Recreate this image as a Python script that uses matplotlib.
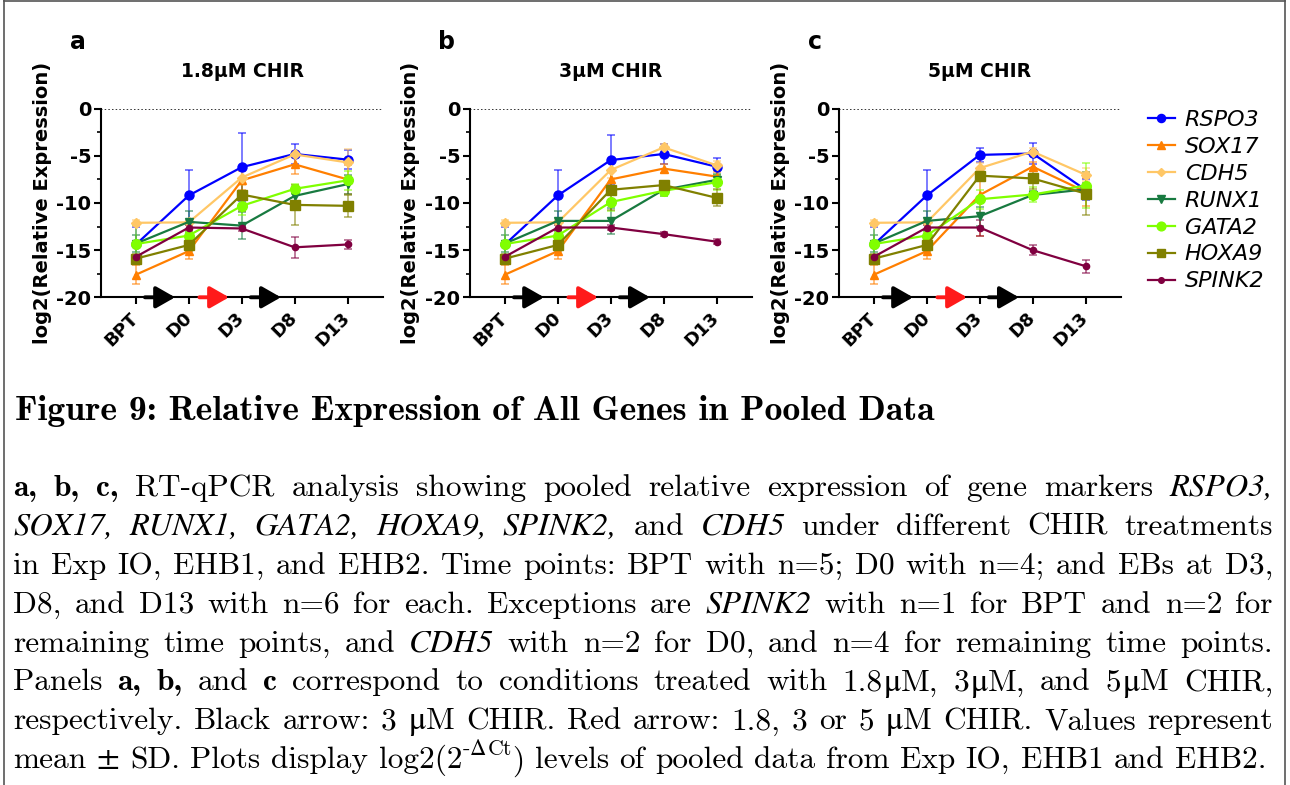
import matplotlib
matplotlib.use('Agg')
import matplotlib.pyplot as plt
import numpy as np
from matplotlib.lines import Line2D
from matplotlib.colors import to_rgba

plt.rcParams['axes.unicode_minus'] = False

W, H = 1290, 785

# ---------------- data ----------------
timepoints = ['BPT', 'D0', 'D3', 'D8', 'D13']
genes = ['RSPO3', 'SOX17', 'CDH5', 'RUNX1', 'GATA2', 'HOXA9', 'SPINK2']
panel_letters = ['a', 'b', 'c']
panel_titles = ['1.8μM CHIR', '3μM CHIR', '5μM CHIR']

mean_a = {
    'RSPO3': [-14.4, -9.2, -6.2, -4.8, -5.4],
    'SOX17': [-17.6, -15.1, -7.6, -5.9, -7.5],
    'CDH5': [-12.1, -12.05, -7.3, -4.85, -5.7],
    'RUNX1': [-14.3, -12.0, -12.4, -9.25, -8.0],
    'GATA2': [-14.35, -13.45, -10.3, -8.5, -7.6],
    'HOXA9': [-15.9, -14.45, -9.1, -10.2, -10.3],
    'SPINK2': [-15.7, -12.6, -12.7, -14.7, -14.4],
}
sd_a = {
    'RSPO3': [1.9, 2.7, 3.6, 1.1, 1.0],
    'SOX17': [1.0, 0.8, 1.0, 1.0, 1.5],
    'CDH5': [0.3, 0.3, 0.8, 0.4, 1.4],
    'RUNX1': [0.9, 1.1, 1.4, 0.5, 1.0],
    'GATA2': [2.0, 0.4, 1.0, 0.5, 1.0],
    'HOXA9': [0.5, 0.6, 1.8, 2.1, 1.2],
    'SPINK2': [0.0, 0.3, 0.3, 1.1, 0.5],
}
mean_b = {
    'RSPO3': [-14.4, -9.2, -5.45, -4.8, -6.15],
    'SOX17': [-17.6, -15.1, -7.5, -6.35, -7.2],
    'CDH5': [-12.1, -12.05, -6.5, -4.1, -6.0],
    'RUNX1': [-14.3, -11.9, -11.9, -8.6, -7.55],
    'GATA2': [-14.35, -13.45, -9.9, -8.7, -7.8],
    'HOXA9': [-15.9, -14.45, -8.6, -8.1, -9.45],
    'SPINK2': [-15.7, -12.6, -12.6, -13.3, -14.1],
}
sd_b = {
    'RSPO3': [1.9, 2.7, 2.65, 1.1, 0.9],
    'SOX17': [1.0, 0.8, 1.0, 0.5, 0.5],
    'CDH5': [0.3, 0.3, 0.8, 0.4, 0.5],
    'RUNX1': [0.9, 1.1, 1.4, 0.7, 0.6],
    'GATA2': [2.0, 0.4, 1.0, 0.6, 0.8],
    'HOXA9': [0.5, 0.6, 2.1, 0.4, 0.9],
    'SPINK2': [0.0, 0.3, 0.3, 0.2, 0.3],
}
mean_c = {
    'RSPO3': [-14.4, -9.2, -4.9, -4.75, -8.6],
    'SOX17': [-17.6, -15.1, -9.15, -6.15, -8.8],
    'CDH5': [-12.1, -12.05, -6.3, -4.55, -7.0],
    'RUNX1': [-14.3, -11.9, -11.4, -9.15, -8.55],
    'GATA2': [-14.35, -13.45, -9.6, -9.1, -8.15],
    'HOXA9': [-15.9, -14.45, -7.1, -7.4, -9.0],
    'SPINK2': [-15.7, -12.6, -12.6, -15.0, -16.7],
}
sd_c = {
    'RSPO3': [1.9, 2.7, 0.7, 1.15, 1.1],
    'SOX17': [1.0, 0.8, 4.3, 0.5, 1.5],
    'CDH5': [0.3, 0.3, 0.5, 0.4, 0.7],
    'RUNX1': [0.9, 1.1, 1.0, 0.4, 0.7],
    'GATA2': [2.0, 0.4, 1.0, 0.8, 2.4],
    'HOXA9': [0.5, 0.6, 0.3, 1.1, 2.3],
    'SPINK2': [0.0, 0.3, 0.85, 0.5, 0.7],
}
panel_means = [mean_a, mean_b, mean_c]
panel_sds = [sd_a, sd_b, sd_c]

# treatment arrows (x in category units, drawn on the x axis)
arrow_starts = [0.17, 1.20, 2.17]
arrow_ends = [0.74, 1.76, 2.74]
arrow_colors = ['black', '#ff1a1a', 'black']

# ---------------- styles ----------------
colors = {'RSPO3': '#0000ff', 'SOX17': '#ff7f00', 'CDH5': '#ffc766',
          'RUNX1': '#187a40', 'GATA2': '#80ff00', 'HOXA9': '#808000',
          'SPINK2': '#800040'}
markers = {'RSPO3': 'o', 'SOX17': '^', 'CDH5': 'D', 'RUNX1': 'v',
           'GATA2': 'o', 'HOXA9': 's', 'SPINK2': 'o'}
msizes = {'RSPO3': 6.5, 'SOX17': 6, 'CDH5': 5, 'RUNX1': 6,
          'GATA2': 7, 'HOXA9': 7, 'SPINK2': 4.5}

fig = plt.figure(figsize=(W / 100, H / 100), dpi=100)

ax_left_px = [101, 470, 839]
ax_w_px, ax_top_px, ax_bot_px = 282, 108.7, 297.3

x = np.arange(len(timepoints))
for k in range(3):
    L = ax_left_px[k]
    ax = fig.add_axes([L / W, 1 - ax_bot_px / H, ax_w_px / W, (ax_bot_px - ax_top_px) / H])
    ax.axhline(0, color='black', lw=1.1, ls=(0, (1, 1.4)), zorder=1)
    for g in genes:
        ax.errorbar(x, panel_means[k][g], yerr=panel_sds[k][g], color=colors[g],
                    marker=markers[g], ms=msizes[g], lw=1.6,
                    ecolor=to_rgba(colors[g], 0.6), elinewidth=1.2, capsize=3,
                    capthick=1.2, clip_on=False, zorder=3)
    ax.set_ylim(-20, 0)
    ax.set_xlim(-0.66, 4.67)
    ax.set_yticks([-20, -15, -10, -5, 0])
    ax.set_yticks([-17.5, -12.5, -7.5, -2.5], minor=True)
    ax.set_xticks(x)
    ax.set_xticklabels(timepoints, rotation=45, ha='right', va='center',
                       rotation_mode='anchor', fontsize=13, fontweight='bold')
    for lab in ax.get_yticklabels():
        lab.set_fontweight('bold')
        lab.set_fontsize(14)
    for s in ['top', 'right']:
        ax.spines[s].set_visible(False)
    for s in ['left', 'bottom']:
        ax.spines[s].set_linewidth(1.5)
    ax.tick_params(axis='y', which='major', length=5, width=1.5, pad=2)
    ax.tick_params(axis='y', which='minor', length=3, width=1.2)
    ax.tick_params(axis='x', which='major', length=5, width=1.5, pad=8)
    ax.set_ylabel('log2(Relative Expression)', fontsize=14, fontweight='bold', va='center')
    ax.yaxis.set_label_coords(-59 / ax_w_px, 0.5)
    ax.patch.set_alpha(0)
    for xs, xe, c in zip(arrow_starts, arrow_ends, arrow_colors):
        ax.annotate('', xy=(xe, -20), xytext=(xs, -20),
                    arrowprops=dict(arrowstyle='-|>,head_length=1.05,head_width=0.6',
                                    color=c, lw=2.8, shrinkA=0, shrinkB=0,
                                    mutation_scale=11),
                    annotation_clip=False, zorder=4)
    fig.text((L - 23.5) / W, 1 - 49 / H, panel_letters[k], fontsize=17,
             fontweight='bold', ha='center', va='baseline')
    fig.text((L + ax_w_px / 2) / W, 1 - 77 / H, panel_titles[k], fontsize=13.5,
             fontweight='bold', ha='center', va='baseline')

handles = [Line2D([], [], color=colors[g], marker=markers[g], ms=msizes[g] * 0.9, lw=1.6)
           for g in genes]
fig.legend(handles, genes, loc='upper left', bbox_to_anchor=(1148 / W, 1 - 110 / H),
           frameon=False, prop=dict(family='DejaVu Sans', style='italic', size=16),
           handlelength=1.2, handletextpad=0.45, labelspacing=0.31,
           borderpad=0, borderaxespad=0)

# ---------------- caption ----------------
renderer = fig.canvas.get_renderer()

def props(style, size):
    if style == 'r':
        return dict(family=['cmr10'], size=size)
    if style == 'sym':
        return dict(family=['STIXGeneral'], size=size * 1.05)
    if style == 'b':
        return dict(family=['cmb10'], size=size)
    if style == 'i':
        return dict(family=['STIXGeneral'], style='italic', size=size * 1.03)
    if style == 'sup':
        return dict(family=['cmr10'], size=size * 0.7)
    if style == 'supsym':
        return dict(family=['STIXGeneral'], size=size * 0.72)
    if style == 'title':
        return dict(family=['cmb10'], size=size)

def split_word(word, style):
    # split a word into runs of ASCII (Computer Modern) and non-ASCII (fallback) chars
    segs = []
    for ch in word:
        st = style
        if ord(ch) > 127:
            st = 'supsym' if style == 'sup' else 'sym'
        if segs and segs[-1][1] == st:
            segs[-1] = (segs[-1][0] + ch, st)
        else:
            segs.append((ch, st))
    return segs

def measure(s, style, size):
    t = fig.text(0, 0, s, **props(style, size))
    w = t.get_window_extent(renderer).width
    t.remove()
    return w

def R(s):
    return [split_word(w, 'r') for w in s.split()]

def B(s):
    return [[(w, 'b')] for w in s.split()]

def I(s):
    return [[(w, 'i')] for w in s.split()]

lines = [
    B("a, b, c,") + R("RT-qPCR analysis showing pooled relative expression of gene markers") + I("RSPO3,"),
    I("SOX17, RUNX1, GATA2, HOXA9, SPINK2,") + R("and") + I("CDH5") + R("under different CHIR treatments"),
    R("in Exp IO, EHB1, and EHB2. Time points: BPT with n=5; D0 with n=4; and EBs at D3,"),
    R("D8, and D13 with n=6 for each. Exceptions are") + I("SPINK2") + R("with n=1 for BPT and n=2 for"),
    R("remaining time points, and") + I("CDH5") + R("with n=2 for D0, and n=4 for remaining time points."),
    R("Panels") + B("a, b,") + R("and") + B("c") + R("correspond to conditions treated with 1.8μM, 3μM, and 5μM CHIR,"),
    R("respectively. Black arrow: 3 μM CHIR. Red arrow: 1.8, 3 or 5 μM CHIR. Values represent"),
    R("mean ± SD. Plots display") + [[('log2(2', 'r')] + split_word('-ΔCt', 'sup') + [(')', 'r')]]
    + R("levels of pooled data from Exp IO, EHB1 and EHB2."),
]

x_left, x_right = 13, 1273
base = 20.0

def word_width(word, size):
    return sum(measure(s, st, size) for s, st in word)

# fit size to the last (unjustified) line
last = lines[-1]
nat = sum(word_width(w, base) for w in last) + (len(last) - 1) * 0.333 * base * 100 / 72
S = base * (1265 - x_left) / nat

def draw_word(word, xpx, ypx, size):
    for s, st in word:
        yy = ypx - (0.42 * size * 100 / 72 if st in ('sup', 'supsym') else 0)
        if s == '±':
            yy -= 2.5
        t = fig.text(xpx / W, 1 - yy / H, s, ha='left', va='baseline', **props(st, size))
        xpx += t.get_window_extent(renderer).width + 0.5
    return xpx

for i, line in enumerate(lines):
    ybase = 496 + 38.9 * i
    widths = [word_width(w, S) + 0.5 * (len(w) - 1) for w in line]
    if i < len(lines) - 1:
        gap = (x_right - x_left - sum(widths)) / (len(line) - 1)
    else:
        gap = 0.333 * S * 100 / 72
    xp = x_left
    for w, wd in zip(line, widths):
        draw_word(w, xp, ybase, S)
        xp += wd + gap

# title
title = "Figure 9: Relative Expression of All Genes in Pooled Data"
tw = measure(title, 'title', base)
T = base * (935 - 15) / tw
fig.text(15 / W, 1 - 420 / H, title, ha='left', va='baseline', **props('title', T))

# frame
for xs, ys in [([4, 4], [0, H]), ([1285, 1285], [0, H]), ([4, 1285], [1, 1])]:
    fig.add_artist(Line2D([v / W for v in xs], [1 - v / H for v in ys],
                          color='#555555', lw=1.2, transform=fig.transFigure))

fig.savefig('out.png', dpi=100)
